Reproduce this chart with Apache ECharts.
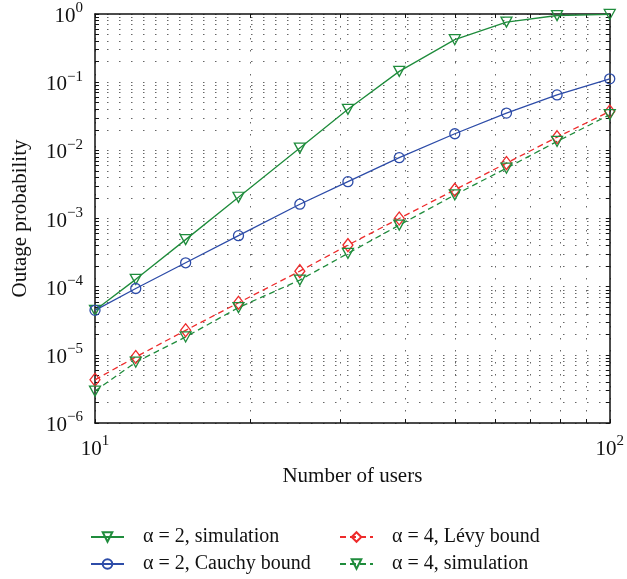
<!DOCTYPE html>
<html>
<head>
<meta charset="utf-8">
<script src="https://cdn.jsdelivr.net/npm/echarts@6/dist/echarts.min.js"></script>
<style>html,body{margin:0;padding:0;background:#fff}#c{width:627px;height:579px}</style>
</head>
<body>
<div id="c"></div>
<script>
// ---- data ----
const users = [10, 12, 15, 19, 25, 31, 39, 50, 63, 79, 100];
const sim2 = [4.5e-5, 1.28e-4, 4.9e-4, 2.05e-3, 1.08e-2, 4.0e-2, 0.144, 0.42, 0.76, 0.95, 0.985];
const cauchy2 = [4.5e-5, 9.4e-5, 2.24e-4, 5.6e-4, 1.62e-3, 3.47e-3, 7.8e-3, 1.75e-2, 3.52e-2, 6.5e-2, 0.112];
const levy4 = [4.3e-6, 9.3e-6, 2.29e-5, 5.8e-5, 1.69e-4, 4.07e-4, 1.0e-3, 2.63e-3, 6.5e-3, 1.56e-2, 3.72e-2];
const sim4 = [2.94e-6, 7.8e-6, 1.83e-5, 4.94e-5, 1.25e-4, 3.08e-4, 8.0e-4, 2.22e-3, 5.47e-3, 1.35e-2, 3.33e-2];
const names = ['\u03b1 = 2, simulation', '\u03b1 = 2, Cauchy bound', '\u03b1 = 4, L\u00e9vy bound', '\u03b1 = 4, simulation'];
const xTickLabels = [10, 100];
const yTickLabels = [1e-6, 1e-5, 1e-4, 1e-3, 1e-2, 1e-1, 1];

// minor grid positions (1..9 x 10^k)
const xGrid = [];
for (let m = 1; m <= 10; m++) xGrid.push(m * 10);
const yGrid = [];
for (let k = -6; k <= -1; k++) for (let m = 1; m <= 9; m++) yGrid.push(+(m * Math.pow(10, k)).toPrecision(3));
yGrid.push(1);

const FONT = 'Liberation Serif';
const GREEN = '#1f8c3c', BLUE = '#2d4ca8', RED = '#ee2b2b';
const TRI = 'path://M0,0 L10,0 L5,9 Z';

function pow10Label(v) {
  const e = Math.round(Math.log10(v));
  const s = e < 0 ? '\u2212' + (-e) : '' + e;
  return '{b|10}{s|' + s + '}';
}
const rich = {
  b: { fontFamily: FONT, fontSize: 21, color: '#111', lineHeight: 26, verticalAlign: 'bottom' },
  s: { fontFamily: FONT, fontSize: 15, color: '#111', lineHeight: 15, verticalAlign: 'top' }
};
const gridLine = { show: true, lineStyle: { color: '#666', width: 1, type: [1.5, 10.5] } };

const pairs = arr => users.map((u, i) => [u, arr[i]]);

function mk(name, data, color, dashed, symbol, size) {
  return {
    name, type: 'line', data: pairs(data), xAxisIndex: 0, yAxisIndex: 0,
    symbol, symbolSize: size, showSymbol: true,
    lineStyle: { color, width: 1.3, type: dashed ? [6, 4] : 'solid' },
    itemStyle: { color: 'rgba(255,255,255,0)', borderColor: color, borderWidth: 1.3 },
    emphasis: { disabled: true }, animation: false, z: 3
  };
}
function lg(name, left, top) {
  return {
    orient: 'horizontal', left, top, padding: 0, itemWidth: 33, itemHeight: 12,
    data: [name], selectedMode: false,
    textStyle: { fontFamily: FONT, fontSize: 20, color: '#111', lineHeight: 20, padding: [0, 0, 0, 14] }
  };
}

const chart = echarts.init(document.getElementById('c'), null, { renderer: 'canvas' });
chart.setOption({
  animation: false,
  backgroundColor: '#fff',
  grid: { left: 95, right: 13, top: 14, bottom: 156, containLabel: false },
  xAxis: [{
    type: 'log', logBase: 10, min: 10, max: 100,
    name: 'Number of users', nameLocation: 'middle', nameGap: 43,
    nameTextStyle: { fontFamily: FONT, fontSize: 21, color: '#111' },
    axisLine: { lineStyle: { color: '#111', width: 1.5 } },
    axisTick: { show: true, inside: true, length: 4, customValues: xGrid, lineStyle: { color: '#111' } },
    axisLabel: { customValues: xTickLabels, formatter: pow10Label, rich, margin: 11 },
    splitLine: gridLine
  }, {
    type: 'log', logBase: 10, min: 10, max: 100, position: 'top',
    axisLine: { lineStyle: { color: '#111', width: 1.5 } },
    axisTick: { show: true, inside: true, length: 4, customValues: xGrid, lineStyle: { color: '#111' } },
    axisLabel: { show: false }, splitLine: { show: false }
  }],
  yAxis: [{
    type: 'log', logBase: 10, min: 1e-6, max: 1,
    name: 'Outage probability', nameLocation: 'middle', nameGap: 64,
    nameTextStyle: { fontFamily: FONT, fontSize: 21, color: '#111' },
    axisLine: { show: true, lineStyle: { color: '#111', width: 1.5 } },
    axisTick: { show: true, inside: true, length: 4, customValues: yGrid, lineStyle: { color: '#111' } },
    axisLabel: { customValues: yTickLabels, formatter: pow10Label, rich, margin: 12 },
    splitLine: gridLine
  }, {
    type: 'log', logBase: 10, min: 1e-6, max: 1, position: 'right',
    axisLine: { show: true, lineStyle: { color: '#111', width: 1.5 } },
    axisTick: { show: true, inside: true, length: 4, customValues: yGrid, lineStyle: { color: '#111' } },
    axisLabel: { show: false }, splitLine: { show: false }
  }],
  legend: [
    lg(names[0], 90, 527), lg(names[1], 90, 554),
    lg(names[2], 339, 527), lg(names[3], 339, 554)
  ],
  series: [
    mk(names[0], sim2, GREEN, false, TRI, [11, 10]),
    mk(names[1], cauchy2, BLUE, false, 'circle', 10),
    mk(names[2], levy4, RED, true, 'diamond', [10, 13]),
    mk(names[3], sim4, GREEN, true, TRI, [11, 10])
  ]
});
</script>
</body>
</html>
